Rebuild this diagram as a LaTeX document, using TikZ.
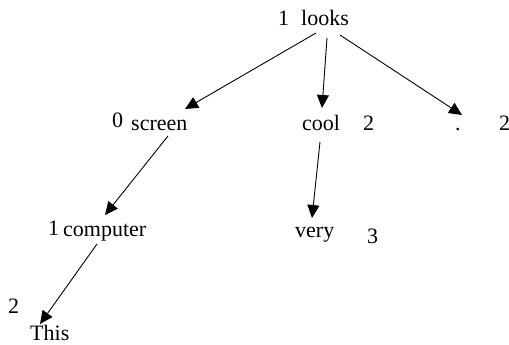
\documentclass[tikz,border=0pt]{standalone}
\usepackage{fontspec}
\setmainfont{Liberation Serif}
\usetikzlibrary{arrows.meta}
\tikzset{
  word/.style={anchor=base west, inner sep=0pt, font=\fontsize{22}{26}\selectfont},
  num/.style={anchor=base west, inner sep=0pt, font=\fontsize{22}{26}\selectfont},
  dep/.style={line width=0.9pt, -{Triangle[length=13pt,width=12pt]}}
}
\begin{document}
\begin{tikzpicture}[x=1pt,y=-1pt]
  \useasboundingbox (0,0) rectangle (509,345);

  % words of the dependency tree
  \node[word] (looks)    at (301,26)  {looks};
  \node[word] (screen)   at (131,131) {screen};
  \node[word] (cool)     at (302,131) {cool};
  \node[word] (dot)      at (455,131) {.};
  \node[word] (very)     at (295,237) {very};
  \node[word] (computer) at (63,236)  {computer};
  \node[word] (this)     at (30,340)  {This};

  % depth numbers
  \node[num] (nlooks)    at (278,26)  {1};
  \node[num] (nscreen)   at (112,128) {0};
  \node[num] (ncool)     at (363,131) {2};
  \node[num] (ndot)      at (499,131) {2};
  \node[num] (nvery)     at (367,243) {3};
  \node[num] (ncomputer) at (48,235)  {1};
  \node[num] (nthis)     at (8,313)   {2};

  % head -> dependent arrows
  \draw[dep] ([shift={(15,7)}]looks.base west)    -- ([shift={(54,-22)}]screen.base west);
  \draw[dep] ([shift={(26,12)}]looks.base west)   -- ([shift={(20,-23)}]cool.base west);
  \draw[dep] ([shift={(39,9)}]looks.base west)    -- ([shift={(7,-16)}]dot.base west);
  \draw[dep] ([shift={(37,5)}]screen.base west)   -- ([shift={(42,-21)}]computer.base west);
  \draw[dep] ([shift={(18,11)}]cool.base west)    -- ([shift={(17,-19)}]very.base west);
  \draw[dep] ([shift={(34,8)}]computer.base west) -- ([shift={(10,-16)}]this.base west);
\end{tikzpicture}
\end{document}
